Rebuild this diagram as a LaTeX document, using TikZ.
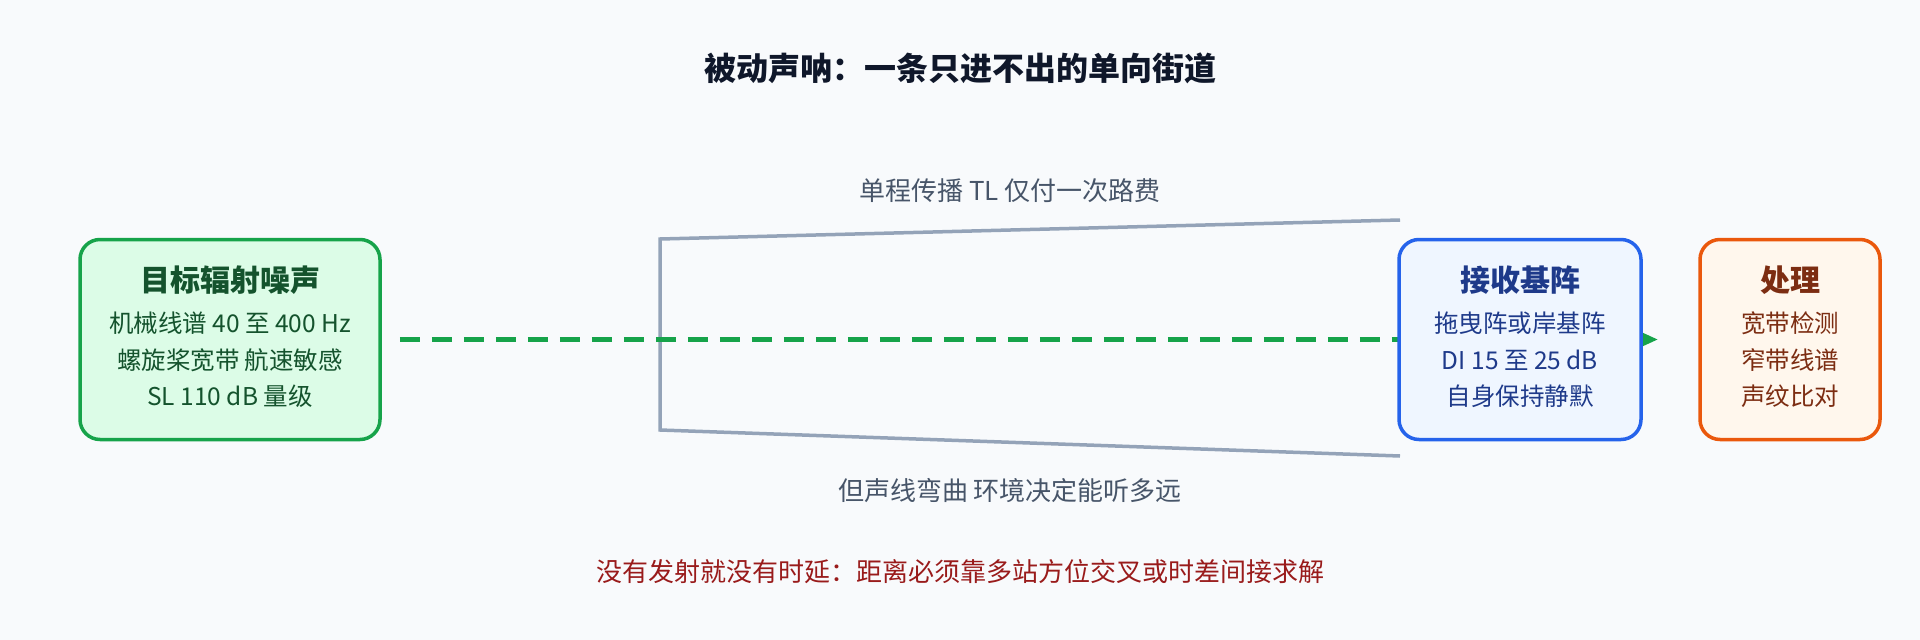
\documentclass[tikz,border=0pt]{standalone}
\usepackage{fontspec}
\setmainfont{Noto Sans CJK SC}
\usetikzlibrary{arrows.meta,positioning}
\definecolor{bgc}{HTML}{F8FAFC}
\definecolor{ink}{HTML}{0F172A}
\definecolor{slate}{HTML}{94A3B8}
\definecolor{note}{HTML}{475569}
\definecolor{warn}{HTML}{991B1B}
\definecolor{grn}{HTML}{16A34A}
\definecolor{grnfill}{HTML}{DCFCE7}
\definecolor{grntext}{HTML}{14532D}
\definecolor{blu}{HTML}{2563EB}
\definecolor{blufill}{HTML}{EFF6FF}
\definecolor{blutext}{HTML}{1E3A8A}
\definecolor{org}{HTML}{EA580C}
\definecolor{orgfill}{HTML}{FFF7ED}
\definecolor{orgtext}{HTML}{7C2D12}
\begin{document}
\begin{tikzpicture}[x=1pt, y=-1pt,
  box/.style = {shape=rectangle, rounded corners=20pt, line width=3.5pt,
    minimum width=300pt, minimum height=200pt, inner sep=0pt},
  boxtitle/.style = {font=\fontsize{30}{36}\selectfont\bfseries, inner sep=0pt},
  boxbody/.style = {font=\fontsize{24.5}{36.5}\selectfont, align=center, inner sep=0pt},
  label/.style = {font=\fontsize{26}{30}\selectfont, text=note, inner sep=0pt}]
  \useasboundingbox (0,0) rectangle (1920,640);
  \fill[bgc] (0,0) rectangle (1920,640);
  \node[font=\fontsize{32}{38}\selectfont\bfseries, text=ink] (title) at (960,68)
    {被动声呐：一条只进不出的单向街道};
  % the spreading path
  \draw[slate, line width=3.5pt] (1400,220) -- (660,239) -- (660,430) -- (1400,456);
  \node[label] (tl) at (1010,191) {单程传播 TL 仅付一次路费};
  \node[label] (bend) at (1010,491) {但声线弯曲 环境决定能听多远};
  % source and processing
  \node[box, draw=grn, fill=grnfill] (src) at (230,339.5) {};
  \node[boxtitle, text=grntext] (srcT) at (230,280) {目标辐射噪声};
  \node[boxbody, text=grntext] (srcB) at (230,360)
    {机械线谱 40 至 400 Hz\\螺旋桨宽带 航速敏感\\SL 110 dB 量级};
  \node[box, draw=org, fill=orgfill, minimum width=180pt] (proc) at (1790,339.5) {};
  \node[boxtitle, text=orgtext] (procT) at (1790,280) {处理};
  \node[boxbody, text=orgtext] (procB) at (1790,360) {宽带检测\\窄带线谱\\声纹比对};
  \draw[grn, line width=5pt, dash pattern=on 20pt off 12pt,
    -{Triangle[length=20pt, width=16pt]}, shorten <=18pt, shorten >=40pt]
    (src.east) -- (proc.west);
  % receiver sits on top of the line
  \node[box, draw=blu, fill=blufill, minimum width=242pt] (rcv) at (1520,339.5) {};
  \node[boxtitle, text=blutext] (rcvT) at (1520,280) {接收基阵};
  \node[boxbody, text=blutext] (rcvB) at (1520,360) {拖曳阵或岸基阵\\DI 15 至 25 dB\\自身保持静默};
  \node[font=\fontsize{26}{30}\selectfont, text=warn] (nodelay) at (960,572)
    {没有发射就没有时延：距离必须靠多站方位交叉或时差间接求解};
\end{tikzpicture}
\end{document}
